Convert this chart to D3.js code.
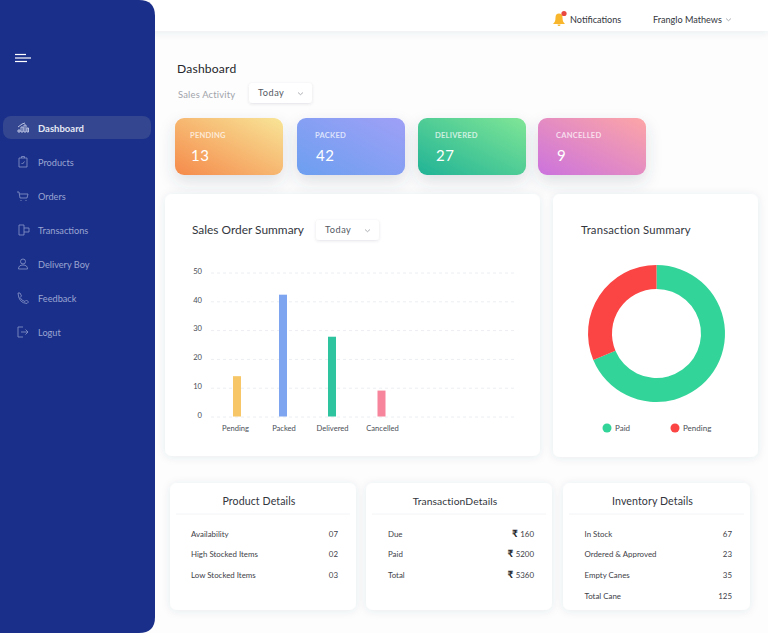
<!DOCTYPE html>
<html>
<head>
<meta charset="utf-8">
<script src="https://cdn.jsdelivr.net/npm/d3@7"></script>
<style>
  html, body { margin: 0; padding: 0; background: #fdfdfd; overflow: hidden; }
  svg { display: block; font-family: Lato, "Noto Sans", sans-serif; }
  .grid line { stroke: #eceef1; stroke-dasharray: 3 3; }
  .axis text { font-family: Lato, "Noto Sans", sans-serif; font-size: 7.6px; fill: #4b4f57; }
  .axis path, .axis line { display: none; }
</style>
</head>
<body>
<svg id="page" width="768" height="633"></svg>
<script>
// nav
const navItems = ["Dashboard", "Products", "Orders", "Transactions", "Delivery Boy", "Feedback", "Logut"];

// stat cards
const statLabels = ["PENDING", "PACKED", "DELIVERED", "CANCELLED"];
const statValues = [13, 42, 27, 9];
const statFrom = ["#f58a4b", "#6c9ff0", "#20b396", "#cb72de"];
const statTo = ["#f8e597", "#9fa0f6", "#80e696", "#fda6a6"];

// bar chart
const barCategories = ["Pending", "Packed", "Delivered", "Cancelled"];
const barValues = [14, 42.3, 27.7, 9];
const barColors = ["#f6c667", "#7ea6f0", "#2fc4a0", "#f7869c"];
const barTicks = [0, 10, 20, 30, 40, 50];

// donut
const donutLabels = ["Paid", "Pending"];
const donutValues = [68.7, 31.3];
const donutColors = ["#33d49a", "#fb4444"];

// detail tables
const productRows = ["Availability", "High Stocked Items", "Low Stocked Items"];
const productVals = ["07", "02", "03"];
const transRows = ["Due", "Paid", "Total"];
const transVals = ["160", "5200", "5360"];
const inventoryRows = ["In Stock", "Ordered & Approved", "Empty Canes", "Total Cane"];
const inventoryVals = ["67", "23", "35", "125"];

const svg = d3.select("#page");
const defs = svg.append("defs");

function shadow(id, dy, blur, op) {
  const f = defs.append("filter").attr("id", id)
    .attr("x", "-30%").attr("y", "-30%").attr("width", "160%").attr("height", "170%");
  f.append("feDropShadow").attr("dx", 0).attr("dy", dy)
    .attr("stdDeviation", blur).attr("flood-color", "#404a60").attr("flood-opacity", op);
}
shadow("soft", 1, 4, 0.10);
shadow("stat", 7, 8, 0.16);
shadow("small", 1, 1.5, 0.14);

// top bar
svg.append("rect").attr("x", 150).attr("y", 0).attr("width", 618).attr("height", 31)
  .attr("fill", "#fff").attr("filter", "url(#soft)");

// sidebar
svg.append("path")
  .attr("d", "M0 0H139Q155 0 155 16V617Q155 633 139 633H0Z")
  .attr("fill", "#1a2f89");
svg.append("g").attr("stroke", "#fff").attr("stroke-width", 1.2).selectAll("line")
  .data([[15, 26, 54.5], [15, 31, 58], [15, 27, 61.5]]).enter().append("line")
  .attr("x1", d => d[0]).attr("x2", d => d[1]).attr("y1", d => d[2]).attr("y2", d => d[2]);

svg.append("rect").attr("x", 3).attr("y", 116).attr("width", 148).attr("height", 23).attr("rx", 8)
  .attr("fill", "#33468f");

const navIcons = [
  "M-5 4V2H-3V4ZM-2 4V-1H0V4ZM1 4V-3H3V4ZM4 4V0H5.5V4ZM-5 -1L-1 -4L2 -5",
  "M-4 -4H4V5H-4ZM-1.5 -4V-5.5H1.5V-4M-1.5 1L-.5 2L1.5 -.5",
  "M-6 -4H-4L-3 2H4L5 -2H-3.5M-2.5 4.5H-1.5M2.5 4.5H3.5",
  "M-4 -5H1V5H-4ZM1 -2H6V2H1",
  "M-2.5 -2.5A2.5 2.5 0 1 0 2.5 -2.5A2.5 2.5 0 1 0 -2.5 -2.5M-4.5 5Q-4.5 1 0 1Q4.5 1 4.5 5Z",
  "M-5 -5L-3 -5L-1.5 -2L-3 -.5Q-1 3 2 3.5L3.5 2L5.5 4L4 5.5Q-4.5 5 -5 -5Z",
  "M0 -5H-5V5H0M-2 0H5M2.5 -2.5L5 0L2.5 2.5"
];
const nav = svg.append("g").selectAll("g").data(navItems).enter().append("g")
  .attr("transform", (d, i) => `translate(0,${128 + i * 34})`);
nav.append("path").attr("d", (d, i) => navIcons[i]).attr("transform", "translate(23,0)")
  .attr("fill", "none").attr("stroke", (d, i) => i ? "#7f8dc4" : "#c9d0ea").attr("stroke-width", 0.9);
nav.append("text").attr("x", 38).attr("y", 3.5).attr("font-size", (d, i) => i ? 9.2 : 9.5)
  .attr("font-weight", (d, i) => i ? 400 : 700)
  .attr("fill", (d, i) => i ? "#9aa5d2" : "#e6e9f5").text(d => d);

// header right
svg.append("path").attr("transform", "translate(559,19)")
  .attr("d", "M-6 5Q-3.5 3 -3.5 -1.5Q-3.5 -5.5 0 -5.5Q3.5 -5.5 3.5 -1.5Q3.5 3 6 5ZM-1.5 5.5A1.5 1.5 0 0 0 1.5 5.5Z")
  .attr("fill", "#f7b62b");
svg.append("circle").attr("cx", 564).attr("cy", 13.5).attr("r", 2.6).attr("fill", "#e8483f");
svg.append("text").attr("x", 570).attr("y", 22.5).attr("font-size", 9.1).attr("fill", "#33363d").text("Notifications");
svg.append("text").attr("x", 653).attr("y", 22.5).attr("font-size", 9.1).attr("fill", "#33363d").text("Franglo Mathews");
chevron(728.5, 19.5);

function chevron(x, y) {
  svg.append("path").attr("d", `M${x - 2.5} ${y - 1}L${x} ${y + 1.2}L${x + 2.5} ${y - 1}`)
    .attr("fill", "none").attr("stroke", "#8a8e96").attr("stroke-width", 0.7);
}
function dropdown(x, y) {
  svg.append("rect").attr("x", x).attr("y", y).attr("width", 63).attr("height", 20).attr("rx", 3.5)
    .attr("fill", "#fff").attr("filter", "url(#small)");
  svg.append("text").attr("x", x + 9).attr("y", y + 13).attr("font-size", 9.2)
    .attr("letter-spacing", 0.5).attr("fill", "#555962").text("Today");
  chevron(x + 51.5, y + 10.5);
}

// page heading
svg.append("text").attr("x", 177).attr("y", 72.5).attr("font-size", 12.1).attr("letter-spacing", 0.2)
  .attr("fill", "#24262b").text("Dashboard");
svg.append("text").attr("x", 178).attr("y", 98).attr("font-size", 9.4).attr("letter-spacing", 0.2)
  .attr("fill", "#9fa3aa").text("Sales Activity");
dropdown(249, 83);

// stat cards
const statX = d3.scaleOrdinal().domain(statLabels).range([175, 297, 418, 538]);
const statPad = d3.scaleOrdinal().domain(statLabels).range([15, 18, 17, 18]);
statLabels.forEach((d, i) => {
  const g = defs.append("linearGradient").attr("id", "stat" + i)
    .attr("x1", "0%").attr("y1", "100%").attr("x2", "100%").attr("y2", "0%");
  g.append("stop").attr("offset", "0%").attr("stop-color", statFrom[i]);
  g.append("stop").attr("offset", "100%").attr("stop-color", statTo[i]);
});
const stat = svg.append("g").selectAll("g").data(statLabels).enter().append("g")
  .attr("transform", d => `translate(${statX(d)},118)`);
stat.append("rect").attr("width", 108).attr("height", 57).attr("rx", 9)
  .attr("fill", (d, i) => `url(#stat${i})`).attr("filter", "url(#stat)");
stat.append("text").attr("x", d => statPad(d)).attr("y", 20).attr("font-size", 7.6).attr("font-weight", 700)
  .attr("letter-spacing", 0.2).attr("fill", "#fff").attr("fill-opacity", 0.72).text(d => d);
stat.append("text").attr("x", d => statPad(d) + 1).attr("y", 43).attr("font-size", 15).attr("letter-spacing", 0.5)
  .attr("fill", "#fff").text((d, i) => statValues[i]);

function card(x, y, w, h) {
  svg.append("rect").attr("x", x).attr("y", y).attr("width", w).attr("height", h).attr("rx", 7)
    .attr("fill", "#fff").attr("filter", "url(#soft)");
}

// bar chart
card(165, 194, 375, 262);
svg.append("text").attr("x", 192).attr("y", 234).attr("font-size", 11.9)
  .attr("fill", "#33363d").text("Sales Order Summary");
dropdown(316, 220);

const y = d3.scaleLinear().domain([0, 50]).range([416.5, 272.5]);
// bars and their labels are not evenly spaced in the picture
const barX = d3.scaleOrdinal().domain(barCategories).range([237, 283, 332, 381.5]);
const labelX = d3.scaleOrdinal().domain(barCategories).range([235, 283.5, 332, 382]);

svg.append("g").attr("class", "grid").attr("transform", "translate(211,0)")
  .call(d3.axisLeft(y).tickValues(barTicks).tickSize(-303).tickFormat(""))
  .call(g => g.select(".domain").remove());
svg.append("g").attr("class", "axis").attr("transform", "translate(207,0)")
  .call(d3.axisLeft(y).tickValues(barTicks).tickSize(0).tickPadding(5))
  .selectAll("text").attr("dy", "0.1em");
svg.append("g").attr("class", "axis").attr("transform", "translate(0,416.5)")
  .call(d3.axisBottom(labelX).tickSize(0).tickPadding(9));

svg.append("g").selectAll("rect").data(barValues).enter().append("rect")
  .attr("x", (d, i) => barX(barCategories[i]) - 4)
  .attr("y", d => y(d))
  .attr("width", 8)
  .attr("height", d => y(0) - y(d))
  .attr("fill", (d, i) => barColors[i]);

// donut
card(553, 194, 205, 263);
svg.append("text").attr("x", 581).attr("y", 234).attr("font-size", 11.3).attr("letter-spacing", 0.2)
  .attr("fill", "#33363d").text("Transaction Summary");

const pie = d3.pie().sort(null);
const arc = d3.arc().innerRadius(44.5).outerRadius(68.5);
svg.append("g").attr("transform", "translate(656.5,333.5)")
  .selectAll("path").data(pie(donutValues)).enter().append("path")
  .attr("d", arc).attr("fill", (d, i) => donutColors[i]);

const legendX = d3.scaleOrdinal().domain(donutLabels).range([607, 675]);
const legend = svg.append("g").selectAll("g").data(donutLabels).enter().append("g")
  .attr("transform", d => `translate(${legendX(d)},428)`);
legend.append("circle").attr("r", 4.5).attr("fill", (d, i) => donutColors[i]);
legend.append("text").attr("x", 8).attr("y", 3).attr("font-size", 8)
  .attr("fill", "#4b4f57").text(d => d);

// detail cards
const tables = [
  { title: "Product Details", x: 170, w: 186, pad: 21, size: 10.6, rows: productRows, vals: productVals },
  { title: "TransactionDetails", x: 366, w: 186, pad: 22, size: 10.3, rows: transRows, vals: transVals, money: true },
  { title: "Inventory Details", x: 563, w: 187, pad: 21.5, size: 10.6, rows: inventoryRows, vals: inventoryVals }
];
tables.forEach(t => {
  card(t.x, 483, t.w, 127);
  svg.append("text").attr("x", t.x + t.w / 2 - 4).attr("y", 505).attr("text-anchor", "middle")
    .attr("font-size", t.size).attr("letter-spacing", 0.1).attr("fill", "#33363d").text(t.title);
  svg.append("line").attr("x1", t.x + 6).attr("x2", t.x + t.w - 6).attr("y1", 514).attr("y2", 514)
    .attr("stroke", "#f3f4f6");
  t.rows.forEach((r, i) => {
    const ry = 536.7 + i * 20.7;
    svg.append("text").attr("x", t.x + t.pad).attr("y", ry).attr("font-size", 7.9)
      .attr("fill", "#3e4148").text(r);
    const v = svg.append("text").attr("x", t.x + t.w - 18).attr("y", ry).attr("text-anchor", "end")
      .attr("font-size", 7.9).attr("fill", "#3e4148");
    if (t.money) {
      v.append("tspan").attr("font-size", 10).attr("font-weight", 700).attr("fill", "#24262b").text("₹ ");
    }
    v.append("tspan").text(t.vals[i]);
  });
});
</script>
</body>
</html>
